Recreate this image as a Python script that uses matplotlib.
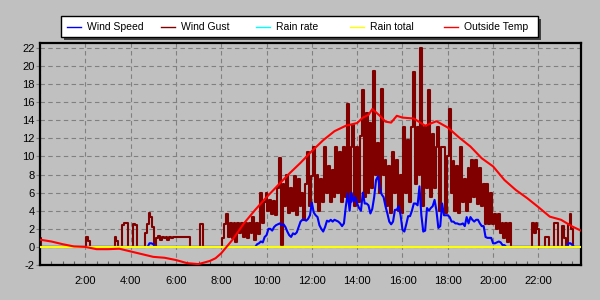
import numpy as np
import matplotlib
matplotlib.use("Agg")
import matplotlib.pyplot as plt
from matplotlib.lines import Line2D
from matplotlib.patches import Rectangle
from matplotlib.ticker import MultipleLocator, FuncFormatter

plt.rcParams['font.family'] = ['Liberation Sans', 'DejaVu Sans']

# 5-minute samples, one row per hour
wind_gust = [
    [1.0, 0, 0, 0, 0, 0, 0, 0, 0, 0, 0, 0],                            # 0
    [0, 0, 0, 0, 0, 0, 0, 0, 0, 0, 0, 0],                              # 1
    [0, 1.1, 0.7, 0, 0, 0, 0, 0, 0, 0, 0, 0],                          # 2
    [0, 0, 0, 0, 1.1, 0.6, 0, 0, 2.4, 2.6, 2.6, 0],                    # 3
    [0, 0, 2.5, 2.4, 0, 0, 0, 0, 1.5, 2.5, 3.7, 3.3],                  # 4
    [2.2, 0, 1.0, 1.2, 0.8, 1.1, 1.0, 1.1, 0.8, 1.1, 1.0, 1.1],        # 5
    [1.1, 1.1, 1.1, 1.1, 1.1, 1.1, 1.1, 1.1, 0, 0, 0, 0],              # 6
    [0, 2.5, 2.5, 0, 0, 0, 0, 0, 0, 0, 0, 0],                          # 7
    [0, 1.0, 2.5, 3.6, 1.1, 2.6, 1.0, 2.6, 0.5, 2.6, 1.5, 2.6],        # 8
    [1.1, 2.6, 1.0, 2.6, 1.5, 3.3, 0.8, 2.6, 1.4, 6.0, 2.6, 5.0],      # 9
    [6.0, 4.0, 5.2, 3.6, 5.1, 3.5, 6.5, 9.8, 0.2, 7.0, 4.5, 8.0],      # 10
    [3.8, 6.5, 4.0, 7.8, 3.5, 7.5, 4.5, 6.0, 3.0, 7.0, 10.5, 4.5],     # 11
    [7.8, 11.0, 5.0, 8.0, 4.0, 7.5, 5.0, 11.0, 6.0, 9.0, 5.0, 8.5],    # 12
    [5.5, 11.0, 6.0, 10.5, 5.0, 11.1, 5.5, 15.8, 5.0, 11.1, 13.5, 4.5],  # 13
    [11.1, 5.0, 12.3, 17.4, 5.5, 14.8, 6.0, 13.7, 6.5, 19.5, 8.0, 11.5],  # 14
    [6.0, 17.5, 8.0, 9.6, 4.5, 8.9, 3.8, 10.5, 6.0, 9.6, 4.0, 8.0],    # 15
    [3.8, 13.3, 6.0, 11.8, 5.0, 13.3, 19.3, 7.0, 13.3, 8.0, 22.0, 4.5],  # 16
    [13.3, 6.5, 17.4, 5.5, 12.5, 6.5, 11.1, 13.3, 4.0, 11.0, 11.0, 3.8],  # 17
    [10.0, 15.2, 6.0, 9.5, 4.0, 9.0, 3.8, 11.1, 5.0, 7.5, 4.0, 8.7],   # 18
    [5.0, 9.6, 5.5, 9.6, 4.8, 8.7, 4.5, 7.0, 2.5, 7.0, 2.5, 6.0],      # 19
    [2.5, 3.6, 2.0, 3.6, 1.5, 2.6, 1.0, 2.6, 0.5, 2.6, 0, 0],          # 20
    [0, 0, 0, 0, 0, 0, 0, 0, 0, 2.6, 1.5, 2.6],                        # 21
    [2.0, 0, 0, 0, 1.1, 1.1, 0, 0, 0, 2.6, 2.6, 0],                    # 22
    [0, 2.3, 1.0, 0, 2.5, 3.6, 2.0, 0, 0, 0, 0, 0],                    # 23
]

wind_speed = [
    [0] * 12, [0] * 12, [0] * 12, [0] * 12,                            # 0-3
    [0, 0, 0, 0, 0, 0, 0, 0, 0, 0, 0.4, 0.4],                          # 4
    [0.3, 0, 0, 0, 0, 0, 0, 0, 0, 0, 0, 0],                            # 5
    [0] * 12, [0] * 12, [0] * 12,                                      # 6-8
    [0, 0, 0, 0, 0, 0, 0, 0.3, 0.4, 0.6, 0.5, 1.1],                    # 9
    [1.3, 2.0, 2.0, 1.8, 2.2, 2.4, 2.5, 2.6, 2.4, 2.5, 2.2, 1.7],      # 10
    [1.3, 1.1, 1.5, 1.4, 1.6, 2.2, 2.8, 3.0, 3.0, 2.9, 3.1, 3.5],      # 11
    [4.9, 3.8, 3.5, 3.3, 2.4, 2.0, 1.7, 2.2, 2.9, 2.8, 3.0, 2.8],      # 12
    [3.0, 2.9, 2.8, 2.6, 2.3, 2.6, 4.5, 5.9, 4.0, 6.0, 5.0, 5.5],      # 13
    [4.8, 4.3, 4.0, 6.0, 4.8, 4.8, 4.6, 3.7, 4.2, 5.5, 7.4, 7.8],      # 14
    [6.5, 5.8, 5.5, 4.5, 3.7, 2.8, 2.5, 2.8, 4.1, 4.1, 4.5, 3.5],      # 15
    [1.9, 1.7, 2.5, 3.4, 3.4, 4.0, 4.8, 4.8, 4.6, 6.7, 3.5, 1.7],      # 16
    [1.8, 4.3, 4.0, 4.3, 4.5, 5.2, 4.0, 2.1, 2.3, 4.8, 3.5, 3.5],      # 17
    [3.5, 3.3, 2.8, 2.8, 2.6, 2.6, 2.5, 2.5, 2.6, 2.3, 3.3, 2.6],      # 18
    [3.3, 3.0, 2.8, 3.0, 3.0, 2.6, 2.3, 2.3, 1.1, 1.0, 1.0, 1.0],      # 19
    [0.4, 0.4, 0.5, 0.6, 0.5, 0.2, 0.2, 0, 0, 0, 0, 0],                # 20
    [0] * 12, [0] * 12,                                                # 21-22
    [0, 0, 0, 0, 0.4, 0.4, 0.2, 0, 0, 0, 0, 0],                        # 23
]

temp_hours = [0, 0.5, 1, 1.5, 2, 2.5, 3, 3.5, 4, 4.5, 5, 5.5, 6, 6.5, 7, 7.5, 7.75,
              8, 8.25, 8.5, 9, 9.5, 10, 10.5, 11, 11.5, 12, 12.5, 13, 13.5, 14,
              14.25, 14.5, 14.67, 15, 15.25, 15.5, 15.75, 16, 16.5, 17, 17.5,
              18, 18.5, 19, 19.5, 20, 20.5, 21, 21.5, 22, 22.5, 23, 23.5, 23.92]
outside_temp = [0.8, 0.6, 0.3, 0.05, 0.0, -0.25, -0.25, -0.2, -0.5, -0.8, -1.1,
                -1.2, -1.45, -1.8, -1.9, -1.55, -1.25, -0.7, 0.05, 0.8, 2.6, 4.1,
                5.5, 6.8, 8.1, 9.3, 10.6, 11.8, 12.8, 13.4, 13.7, 14.3, 14.6,
                15.25, 14.5, 13.85, 13.75, 14.5, 14.3, 14.2, 13.4, 13.9, 13.2,
                12.1, 11.1, 9.8, 8.9, 7.4, 6.3, 5.4, 4.4, 3.35, 3.0, 2.25, 1.75]

gust = np.array(wind_gust, dtype=float).ravel()
speed = np.array(wind_speed, dtype=float).ravel()
t5 = np.arange(len(gust)) / 12.0
rain_rate = np.zeros_like(t5)
rain_total = np.zeros_like(t5)

labels = ['Wind Speed', 'Wind Gust', 'Rain rate', 'Rain total', 'Outside Temp']
colors = ['#0000FF', '#800000', '#00FFFF', '#FFFF00', '#FF0000']

bg = '#C0C0C0'
fig = plt.figure(figsize=(6, 3), dpi=100, facecolor=bg)
ax = fig.add_axes([40 / 600, 1 - 265 / 300, 541 / 600, 222 / 300])
ax.set_facecolor(bg)

# gust drawn as steps so it looks like the blocky bars of the original
ax.plot(t5, gust, color=colors[1], lw=1.5, drawstyle='steps-mid', zorder=2)
ax.plot(t5, speed, color=colors[0], lw=1.5, zorder=3)
ax.plot(t5, rain_rate, color=colors[2], lw=1.5, zorder=4)
ax.plot(t5, rain_total, color=colors[3], lw=1.5, zorder=5)
ax.plot(temp_hours, outside_temp, color=colors[4], lw=1.5, zorder=6)

ax.set_xlim(0, 23.88)
ax.set_ylim(-2, 22.55)
ax.xaxis.set_major_locator(MultipleLocator(2))
ax.xaxis.set_minor_locator(MultipleLocator(0.5))
ax.xaxis.set_major_formatter(FuncFormatter(lambda v, p: '' if v == 0 else f'{int(v)}:00'))
ax.yaxis.set_major_locator(MultipleLocator(2))
ax.yaxis.set_major_formatter(FuncFormatter(lambda v, p: f'{int(round(v))}'))

ax.grid(True, which='major', color='#808080', linestyle=(0, (4, 3)), lw=0.8)
ax.set_axisbelow(True)
ax.tick_params(axis='x', which='major', length=0, pad=8, labelsize=8)
ax.tick_params(axis='x', which='minor', direction='in', length=3, width=0.8,
               color='#606060', top=False)
ax.tick_params(axis='y', which='major', length=3, width=0.8, color='#808080',
               pad=1, labelsize=8)
for s in ax.spines.values():
    s.set_linewidth(1.6)
    s.set_color('black')

# legend box with drop shadow
def fx(px):
    return px / 600

def fy(py):
    return 1 - py / 300

fig.add_artist(Rectangle((fx(64), fy(40)), fx(477), 20.5 / 300, transform=fig.transFigure,
                         facecolor='#404040', edgecolor='none', zorder=1))
fig.add_artist(Rectangle((fx(61), fy(37)), fx(477), 20.5 / 300, transform=fig.transFigure,
                         facecolor='white', edgecolor='black', lw=1, zorder=2))
for i, (lab, col) in enumerate(zip(labels, colors)):
    x0 = 67 + 94.3 * i
    fig.add_artist(Line2D([fx(x0), fx(x0 + 14)], [fy(27), fy(27)], transform=fig.transFigure,
                          color=col, lw=1, zorder=3))
    fig.text(fx(x0 + 20), fy(27), lab, fontsize=7.5, va='center', ha='left', zorder=3)

fig.savefig('out.png', dpi=100, facecolor=bg)
